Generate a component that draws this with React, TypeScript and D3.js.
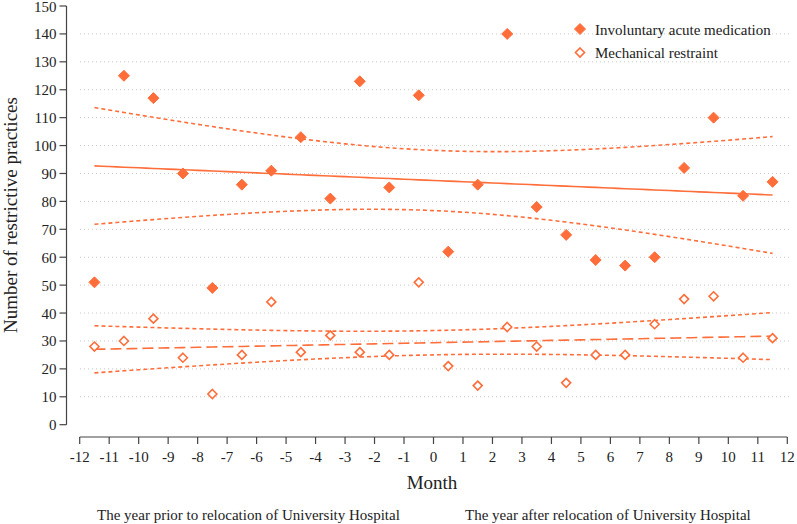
import React from "react";
import * as d3 from "d3";

const months = [-11.5,-10.5,-9.5,-8.5,-7.5,-6.5,-5.5,-4.5,-3.5,-2.5,-1.5,-0.5,0.5,1.5,2.5,3.5,4.5,5.5,6.5,7.5,8.5,9.5,10.5,11.5];
const medication = [51,125,117,90,49,86,91,103,81,123,85,118,62,86,140,78,68,59,57,60,92,110,82,87];
const restraint = [28,30,38,24,11,25,44,26,32,26,25,51,21,14,35,28,15,25,25,36,45,46,24,31];
const xTicks = d3.range(-12, 13, 1);
const yTicks = d3.range(0, 151, 10);
const gridTicks = d3.range(10, 141, 10);

const W = 797, H = 524;
const COLOR = "#FF6E3A";
const FONT = "Liberation Serif, Times New Roman, DejaVu Serif, serif";

function fit(xs: number[], ys: number[]) {
  const n = xs.length;
  const mx = d3.mean(xs)!, my = d3.mean(ys)!;
  let sxx = 0, sxy = 0;
  xs.forEach((x, i) => { sxx += (x - mx) ** 2; sxy += (x - mx) * (ys[i] - my); });
  const b = sxy / sxx, a = my - b * mx;
  let sse = 0;
  xs.forEach((x, i) => { sse += (ys[i] - (a + b * x)) ** 2; });
  const s = Math.sqrt(sse / (n - 2));
  const t = 2.074;
  return d3.range(-11.5, 11.5001, 0.25).map(x0 => {
    const yh = a + b * x0;
    const hw = t * s * Math.sqrt(1 / n + (x0 - mx) ** 2 / sxx);
    return { x: x0, y: yh, lo: yh - hw, hi: yh + hw };
  });
}

export default function App() {
  const x = d3.scaleLinear().domain([-12, 12]).range([79.7, 787.3]);
  const y = d3.scaleLinear().domain([0, 150]).range([424.7, 6]);
  const diamond = (cx: number, cy: number, r: number) =>
    `M${cx},${cy - r}L${cx + r},${cy}L${cx},${cy + r}L${cx - r},${cy}Z`;

  const f1 = fit(months, medication);
  const f2 = fit(months, restraint);
  const mk = (pts: any[], acc: (d: any) => number) =>
    d3.line<any>().x(d => x(d.x)).y(d => y(acc(d)))(pts) || "";

  const axisX = 66.5;
  const axisY = 437;
  const txt = { fontFamily: FONT };

  return (
    <svg width={W} height={H} style={{ position: "absolute", left: 0, top: 0, background: "#fff", fontFamily: FONT }}>
      {gridTicks.map(t => (
        <line key={"g" + t} x1={80} x2={790} y1={y(t)} y2={y(t)} stroke="#c8c8c8" strokeWidth={1} strokeDasharray="1,3" />
      ))}
      <line x1={axisX} x2={axisX} y1={y(150)} y2={y(0)} stroke="#444" strokeWidth={1.2} />
      {yTicks.map(t => (
        <g key={"y" + t}>
          <line x1={axisX - 7} x2={axisX} y1={y(t)} y2={y(t)} stroke="#444" strokeWidth={1.2} />
          <text style={txt} x={axisX - 10} y={y(t) + 5.5} textAnchor="end" fontSize={15} fill="#222">{t}</text>
        </g>
      ))}
      <line x1={x(-12)} x2={x(12)} y1={axisY} y2={axisY} stroke="#444" strokeWidth={1.2} />
      {xTicks.map(t => (
        <g key={"x" + t}>
          <line x1={x(t)} x2={x(t)} y1={axisY} y2={axisY + 7} stroke="#444" strokeWidth={1.2} />
          <text style={txt} x={x(t)} y={axisY + 25} textAnchor="middle" fontSize={15} fill="#222">{t}</text>
        </g>
      ))}
      <text style={txt} x={432} y={489} textAnchor="middle" fontSize={19} fill="#222">Month</text>
      <text style={txt} transform={`translate(17,${215}) rotate(-90)`} textAnchor="middle" fontSize={19} fill="#222">Number of restrictive practices</text>
      <text style={txt} x={97} y={520} fontSize={15} fill="#222">The year prior to relocation of University Hospital</text>
      <text style={txt} x={465} y={520} fontSize={15} fill="#222">The year after relocation of University Hospital</text>

      <path d={mk(f1, d => d.y)} fill="none" stroke={COLOR} strokeWidth={1.6} />
      <path d={mk(f1, d => d.hi)} fill="none" stroke={COLOR} strokeWidth={1.6} strokeDasharray="4,3" />
      <path d={mk(f1, d => d.lo)} fill="none" stroke={COLOR} strokeWidth={1.6} strokeDasharray="4,3" />
      <path d={mk(f2, d => d.y)} fill="none" stroke={COLOR} strokeWidth={1.6} strokeDasharray="11,5" />
      <path d={mk(f2, d => d.hi)} fill="none" stroke={COLOR} strokeWidth={1.6} strokeDasharray="4,3" />
      <path d={mk(f2, d => d.lo)} fill="none" stroke={COLOR} strokeWidth={1.6} strokeDasharray="4,3" />

      {months.map((m, i) => (
        <path key={"m" + i} d={diamond(x(m), y(medication[i]), 5.5)} fill={COLOR} stroke={COLOR} strokeWidth={1} />
      ))}
      {months.map((m, i) => (
        <path key={"r" + i} d={diamond(x(m), y(restraint[i]), 4.5)} fill="#fff" stroke={COLOR} strokeWidth={1.6} />
      ))}

      <path d={diamond(580, 29, 5.5)} fill={COLOR} stroke={COLOR} />
      <text style={txt} x={595} y={30} dy="0.35em" fontSize={15} fill="#222">Involuntary acute medication</text>
      <path d={diamond(580, 52.5, 4.5)} fill="#fff" stroke={COLOR} strokeWidth={1.6} />
      <text style={txt} x={595} y={53} dy="0.35em" fontSize={15} fill="#222">Mechanical restraint</text>
    </svg>
  );
}
